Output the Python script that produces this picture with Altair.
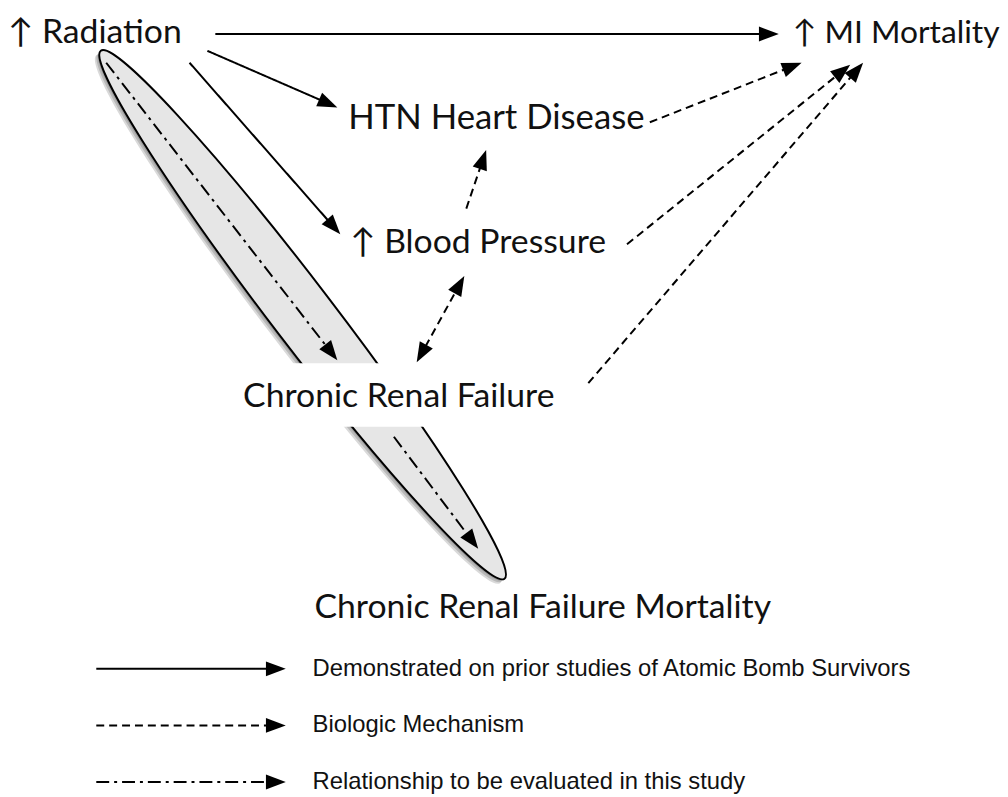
import math
import altair as alt
import pandas as pd

# ---------------- data (diagram layout, image pixel coordinates) ----------------
node_labels = ["↑ Radiation", "↑ MI Mortality", "HTN Heart Disease",
               "↑ Blood Pressure", "Chronic Renal Failure",
               "Chronic Renal Failure Mortality"]
node_x = [8, 799, 351, 353, 245, 317]
node_y = [40, 40, 127, 252, 407, 620]          # text baselines
node_size = [34, 32, 35, 34, 34, 34]

edge_x1 = [217, 209, 191, 655, 632, 593, 470, 420, 107, 397]
edge_y1 = [31, 48, 60, 120, 243, 383, 207, 362, 60, 437]
edge_x2 = [785, 340, 343, 808, 857, 870, 490, 468, 340, 482]
edge_y2 = [31, 105, 233, 60, 62, 60, 148, 275, 360, 550]
edge_style = ["solid", "solid", "solid", "dashed", "dashed", "dashed",
              "dashed", "dashed", "dashdot", "dashdot"]
edge_both = [False, False, False, False, False, False, False, True, False, False]

legend_labels = ["Demonstrated on prior studies of Atomic Bomb Survivors",
                 "Biologic Mechanism",
                 "Relationship to be evaluated in this study"]
legend_style = ["solid", "dashed", "dashdot"]
legend_y = [671, 728, 785]
legend_x1 = [97, 97, 97]
legend_x2 = [288, 288, 288]
legend_text_x = [315, 315, 315]

ellipse_cx, ellipse_cy = [305], [314]
ellipse_a, ellipse_b, ellipse_angle = 335, 31, 52.6
shadow_dx = [-1.5, -3, -4.5]
shadow_dy = [1.5, 3, 4.5]

box_x1, box_x2, box_y1, box_y2 = [236], [572], [363], [427]

# ---------------- geometry helpers ----------------
HEAD_LEN = 20
rows, heads = [], []
def add_edge(x1, y1, x2, y2, style, both):
    dx, dy = x2 - x1, y2 - y1
    L = math.hypot(dx, dy)
    ux, uy = dx / L, dy / L
    ang = math.degrees(math.atan2(dy, dx)) % 360
    ex, ey = x2 - ux * (HEAD_LEN - 2), y2 - uy * (HEAD_LEN - 2)
    sx, sy = x1, y1
    heads.append({"x": x2, "y": y2, "ang": ang})
    if both:
        sx, sy = x1 + ux * (HEAD_LEN - 2), y1 + uy * (HEAD_LEN - 2)
        heads.append({"x": x1, "y": y1, "ang": (ang + 180) % 360})
    rows.append({"x": sx, "y": sy, "x2": ex, "y2": ey, "style": style})

for i in range(len(edge_x1)):
    add_edge(edge_x1[i], edge_y1[i], edge_x2[i], edge_y2[i], edge_style[i], edge_both[i])
for i in range(len(legend_labels)):
    add_edge(legend_x1[i], legend_y[i], legend_x2[i], legend_y[i], legend_style[i], False)

lines = pd.DataFrame(rows)
heads_df = pd.DataFrame(heads)
nodes = pd.DataFrame({"label": node_labels, "x": node_x, "y": node_y, "fs": node_size})
leg = pd.DataFrame({"label": legend_labels, "x": legend_text_x, "y": legend_y})
ell = pd.DataFrame({"x": ellipse_cx, "y": ellipse_cy})
shadow = pd.DataFrame({"x": [ellipse_cx[0] + d for d in shadow_dx],
                       "y": [ellipse_cy[0] + d for d in shadow_dy]})
box = pd.DataFrame({"x": box_x1, "x2": box_x2, "y": box_y1, "y2": box_y2})

# ---------------- scales ----------------
W, H = 1000, 789
xs = alt.Scale(domain=[8, 8 + W], nice=False, zero=False)
ys = alt.Scale(domain=[8, 8 + H], nice=False, zero=False, reverse=True)
X = lambda f="x": alt.X(f"{f}:Q", scale=xs, axis=None)
Y = lambda f="y": alt.Y(f"{f}:Q", scale=ys, axis=None)

r = ellipse_b / ellipse_a
ellipse_path = f"M -1 0 A 1 {r:.4f} 0 1 0 1 0 A 1 {r:.4f} 0 1 0 -1 0 Z"
ell_size = (2 * ellipse_a) ** 2

shadow_layer = alt.Chart(shadow).mark_point(
    shape=ellipse_path, size=ell_size, angle=ellipse_angle, filled=True,
    fill="black", opacity=0.15, strokeWidth=0
).encode(x=X(), y=Y())

ellipse_layer = alt.Chart(ell).mark_point(
    shape=ellipse_path, size=ell_size, angle=ellipse_angle, filled=True,
    fill="#e6e6e6", stroke="black", strokeWidth=2, opacity=1
).encode(x=X(), y=Y())

box_layer = alt.Chart(box).mark_rect(color="white").encode(
    x=X(), x2="x2:Q", y=Y(), y2="y2:Q")

dash_map = {"solid": [1, 0], "dashed": [8, 5], "dashdot": [13, 5, 3, 5]}
line_layers = []
for st, dash in dash_map.items():
    line_layers.append(
        alt.Chart(lines[lines["style"] == st]).mark_rule(
            color="black", strokeWidth=2, strokeDash=dash
        ).encode(x=X(), y=Y(), x2="x2:Q", y2="y2:Q")
    )

arrow_path = "M 0 0 L -2 -0.75 L -2 0.75 Z"
head_layer = alt.Chart(heads_df).mark_point(
    shape=arrow_path, size=HEAD_LEN ** 2, filled=True, color="black", opacity=1
).encode(x=X(), y=Y(), angle=alt.Angle("ang:Q", scale=None))

node_layer = alt.Chart(nodes).mark_text(
    align="left", baseline="alphabetic", font="Lato", color="#111111"
).encode(x=X(), y=Y(), text="label:N", size=alt.Size("fs:Q", scale=None))

legend_layer = alt.Chart(leg).mark_text(
    align="left", baseline="middle", font="Liberation Sans", fontSize=24, color="#111111"
).encode(x=X(), y=Y(), text="label:N")

chart = alt.layer(
    shadow_layer, ellipse_layer, box_layer, *line_layers, head_layer,
    node_layer, legend_layer
).properties(
    width=W, height=H, padding=0, autosize=alt.AutoSizeParams(type="none")
).configure_view(stroke=None)

chart.save("out.html", embed_options={"renderer": "svg", "actions": False})
